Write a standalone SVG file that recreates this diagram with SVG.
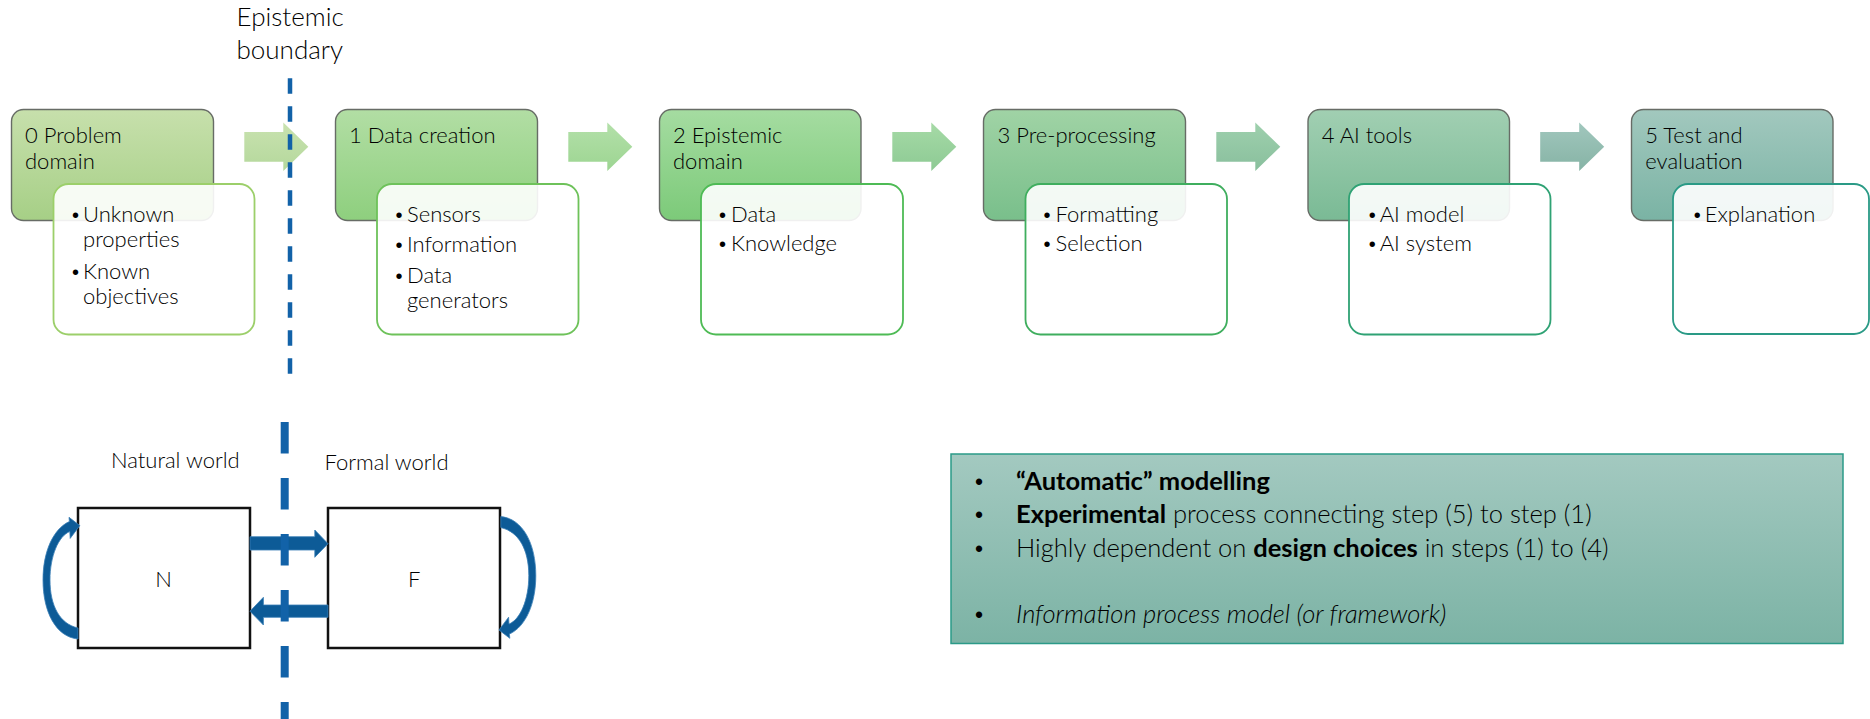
<svg xmlns="http://www.w3.org/2000/svg" width="1870" height="719" viewBox="0 0 1870 719">
  <style>
    .t { font-family: Lato, 'Liberation Sans', 'DejaVu Sans', sans-serif; font-weight: 300; fill: #000000; }
    .title { font-size: 22px; }
    .item { font-size: 22px; }
    .lbl { font-size: 22px; }
    .big { font-size: 26px; }
    .note { font-size: 25.5px; }
    .b { font-weight: bold; }
    .i { font-style: italic; }
    .bul { font-family: 'Liberation Sans', sans-serif; font-weight: normal; font-size: 20px; fill: #000000; }
    .dot { font-family: 'Liberation Sans', sans-serif; font-weight: normal; font-size: 23px; fill: #000000; }
    .step { stroke: #676c66; stroke-width: 1.4; }
    .sub { fill: #ffffff; fill-opacity: 0.9; stroke-width: 1.8; }
    .frame { fill: #ffffff; stroke: #111111; stroke-width: 2.5; }
    .blue { fill: #0d5b97; stroke: #3a7fb6; stroke-width: 0.8; }
    .bound1 { stroke: #1262a8; stroke-width: 4.5; stroke-dasharray: 15.5 12.5; fill: none; }
    .bound2 { stroke: #1262a8; stroke-width: 8; stroke-dasharray: 31.5 24.5; fill: none; }
  </style>
  <defs>
    <linearGradient id="g0" x1="0" y1="0" x2="0" y2="1"><stop offset="0" stop-color="#c7e0ac"/><stop offset="1" stop-color="#a6cf86"/></linearGradient>
    <linearGradient id="g1" x1="0" y1="0" x2="0" y2="1"><stop offset="0" stop-color="#b2dea4"/><stop offset="1" stop-color="#8ecf7e"/></linearGradient>
    <linearGradient id="g2" x1="0" y1="0" x2="0" y2="1"><stop offset="0" stop-color="#a5dca1"/><stop offset="1" stop-color="#7cca79"/></linearGradient>
    <linearGradient id="g3" x1="0" y1="0" x2="0" y2="1"><stop offset="0" stop-color="#a0d3a5"/><stop offset="1" stop-color="#79bf8b"/></linearGradient>
    <linearGradient id="g4" x1="0" y1="0" x2="0" y2="1"><stop offset="0" stop-color="#a1cfb2"/><stop offset="1" stop-color="#7aba95"/></linearGradient>
    <linearGradient id="g5" x1="0" y1="0" x2="0" y2="1"><stop offset="0" stop-color="#a2c8be"/><stop offset="1" stop-color="#7ab3a4"/></linearGradient>
    <linearGradient id="a0" x1="0" y1="0" x2="0" y2="1"><stop offset="0" stop-color="#c9e2af"/><stop offset="1" stop-color="#b4d89c"/></linearGradient>
    <linearGradient id="a1" x1="0" y1="0" x2="0" y2="1"><stop offset="0" stop-color="#b3e0a9"/><stop offset="1" stop-color="#9dd592"/></linearGradient>
    <linearGradient id="a2" x1="0" y1="0" x2="0" y2="1"><stop offset="0" stop-color="#a6daa6"/><stop offset="1" stop-color="#8dca94"/></linearGradient>
    <linearGradient id="a3" x1="0" y1="0" x2="0" y2="1"><stop offset="0" stop-color="#9ed0ad"/><stop offset="1" stop-color="#89bf9d"/></linearGradient>
    <linearGradient id="a4" x1="0" y1="0" x2="0" y2="1"><stop offset="0" stop-color="#a1c7bd"/><stop offset="1" stop-color="#86b3a5"/></linearGradient>
    <linearGradient id="gnote" x1="0" y1="0" x2="0" y2="1"><stop offset="0" stop-color="#a3c9c0"/><stop offset="1" stop-color="#7cb3a5"/></linearGradient>
    <!-- block arrow pointing right, shaft starts at x=0, centred on y=0 -->
    <path id="blk" d="M0,-14.7 H39 V-24.2 L64,0 L39,24.3 V15 H0 Z"/>
    <!-- curved return arrow bulging to the left, tail at the bottom, head at the top -->
    <path id="curl" d="M78,639 C56,637 43,612 43,580 C43,552 53,529 69.4,521.5 L69,517.3 L79.8,525.6 L70.2,538.4 L69.8,531.5 C58.5,536 50,556 50,580 C50,606 60,624 78,628 Z"/>
  </defs>

  <!-- labels -->
  <text class="t big" x="236.5" y="26">Epistemic</text>
  <text class="t big" x="236.5" y="59">boundary</text>
  <text class="t lbl" x="111" y="467.5">Natural world</text>
  <text class="t lbl" x="324.5" y="469.5">Formal world</text>

  <!-- pipeline steps -->
  <g id="step0">
    <rect class="step" x="11.5" y="109.5" width="202" height="111" rx="12" fill="url(#g0)"/>
    <text class="t title" x="25" y="143.3">0 Problem</text>
    <text class="t title" x="25" y="169.3">domain</text>
    <rect class="sub" x="53.5" y="184" width="201" height="150.5" rx="15" stroke="#9ccf6a"/>
    <text class="bul" x="72" y="221.7">•</text>
    <text class="t item" x="83" y="221.7">Unknown</text>
    <text class="t item" x="83" y="246.7">properties</text>
    <text class="bul" x="72" y="279">•</text>
    <text class="t item" x="83" y="279">Known</text>
    <text class="t item" x="83" y="304">objectives</text>
  </g>
  <g id="step1">
    <rect class="step" x="335.5" y="109.5" width="202" height="111" rx="12" fill="url(#g1)"/>
    <text class="t title" x="349" y="143.3">1 Data creation</text>
    <rect class="sub" x="377" y="184" width="201.5" height="150.5" rx="15" stroke="#6ec25a"/>
    <text class="bul" x="395.6" y="221.7">•</text>
    <text class="t item" x="407" y="221.7">Sensors</text>
    <text class="bul" x="395.6" y="251.7">•</text>
    <text class="t item" x="407" y="251.7">Information</text>
    <text class="bul" x="395.6" y="282.5">•</text>
    <text class="t item" x="407" y="282.5">Data</text>
    <text class="t item" x="407" y="308">generators</text>
  </g>
  <g id="step2">
    <rect class="step" x="659.5" y="109.5" width="201.5" height="111" rx="12" fill="url(#g2)"/>
    <text class="t title" x="673" y="143.3">2 Epistemic</text>
    <text class="t title" x="673" y="169.3">domain</text>
    <rect class="sub" x="701" y="184" width="202" height="150.5" rx="15" stroke="#4ebb55"/>
    <text class="bul" x="719" y="221.7">•</text>
    <text class="t item" x="731" y="221.7">Data</text>
    <text class="bul" x="719" y="251">•</text>
    <text class="t item" x="731" y="251">Knowledge</text>
  </g>
  <g id="step3">
    <rect class="step" x="983.5" y="109.5" width="202" height="111" rx="12" fill="url(#g3)"/>
    <text class="t title" x="997.5" y="143.3">3 Pre-processing</text>
    <rect class="sub" x="1025.5" y="184" width="201.5" height="150.5" rx="15" stroke="#3fae5e"/>
    <text class="bul" x="1043.5" y="221.7">•</text>
    <text class="t item" x="1055.5" y="221.7">Formatting</text>
    <text class="bul" x="1043.5" y="251">•</text>
    <text class="t item" x="1055.5" y="251">Selection</text>
  </g>
  <g id="step4">
    <rect class="step" x="1308" y="109.5" width="201.5" height="111" rx="12" fill="url(#g4)"/>
    <text class="t title" x="1321.7" y="143.3">4 AI tools</text>
    <rect class="sub" x="1349" y="184" width="201.5" height="150.5" rx="15" stroke="#2fa274"/>
    <text class="bul" x="1368.8" y="221.7">•</text>
    <text class="t item" x="1379.7" y="221.7">AI model</text>
    <text class="bul" x="1368.8" y="251">•</text>
    <text class="t item" x="1379.7" y="251">AI system</text>
  </g>
  <g id="step5">
    <rect class="step" x="1631.5" y="109.5" width="201.5" height="111" rx="12" fill="url(#g5)"/>
    <text class="t title" x="1645.3" y="143.3">5 Test and</text>
    <text class="t title" x="1645.3" y="169.3">evaluation</text>
    <rect class="sub" x="1673" y="184" width="196" height="150" rx="15" stroke="#2a9a86"/>
    <text class="bul" x="1693.8" y="221.7">•</text>
    <text class="t item" x="1704.7" y="221.7">Explanation</text>
  </g>

  <!-- natural / formal world -->
  <g id="natural">
    <rect class="frame" x="78" y="508" width="172" height="140"/>
    <text class="t lbl" x="163.5" y="586.7" text-anchor="middle" font-size="23.5">N</text>
  </g>
  <g id="formal">
    <rect class="frame" x="328" y="508" width="172" height="140"/>
    <text class="t lbl" x="414.3" y="586.7" text-anchor="middle" font-size="23.5">F</text>
  </g>

  <!-- summary note -->
  <g id="note">
    <rect x="951" y="454" width="892" height="189.5" fill="url(#gnote)" stroke="#2b9a88" stroke-width="1.5"/>
    <text class="dot" x="975" y="490">•</text>
    <text class="t note b" x="1016" y="490">“Automatic” modelling</text>
    <text class="dot" x="975" y="523.3">•</text>
    <text class="t note" x="1016" y="523.3"><tspan class="b">Experimental</tspan> process connecting step (5) to step (1)</text>
    <text class="dot" x="975" y="556.7">•</text>
    <text class="t note" x="1016" y="556.7">Highly dependent on <tspan class="b">design choices</tspan> in steps (1) to (4)</text>
    <text class="dot" x="975" y="622.7">•</text>
    <text class="t note i" x="1016" y="622.7">Information process model (or framework)</text>
  </g>

  <!-- connectors -->
  <g id="connectors">
    <use href="#blk" x="244.3" y="146.7" fill="url(#a0)"/>
    <use href="#blk" x="568.3" y="146.7" fill="url(#a1)"/>
    <use href="#blk" x="892.3" y="146.7" fill="url(#a2)"/>
    <use href="#blk" x="1216.3" y="146.7" fill="url(#a3)"/>
    <use href="#blk" x="1540.2" y="146.7" fill="url(#a4)"/>
    <path class="blue" d="M250,536.7 H314.8 V530 L328,543.7 L314.8,557.3 V550 H250 Z"/>
    <path class="blue" d="M328,605 H263.4 V597.3 L250,611.2 L263.4,625 V617.3 H328 Z"/>
    <use href="#curl" class="blue"/>
    <use href="#curl" class="blue" transform="rotate(180 289.4 577.8)"/>
  </g>

  <!-- epistemic boundary -->
  <g id="boundary">
    <line class="bound1" x1="290" y1="78.3" x2="290" y2="374"/>
    <line class="bound2" x1="284.7" y1="422" x2="284.7" y2="740"/>
  </g>
</svg>
